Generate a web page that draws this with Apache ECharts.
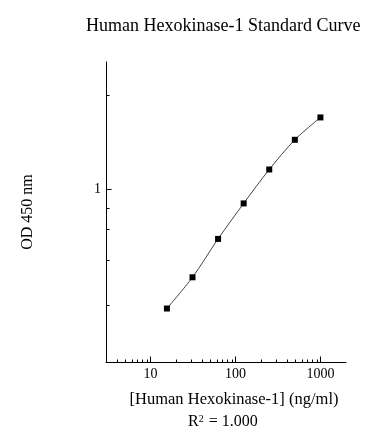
<!DOCTYPE html>
<html>
<head>
<meta charset="utf-8">
<script src="https://cdn.jsdelivr.net/npm/echarts@6/dist/echarts.min.js"></script>
<style>
html,body{margin:0;padding:0;background:#fff;}
#chart{width:388px;height:444px;}
</style>
</head>
<body>
<div id="chart"></div>
<script>
// Standard concentrations (ng/ml)
const concentrations = [15.625, 31.25, 62.5, 125, 250, 500, 1000];
// OD 450 nm readings
const odValues = [0.218, 0.325, 0.531, 0.836, 1.29, 1.886, 2.51];
// Axis ranges
const xRange = [3, 2000];
const yRange = [0.11, 5.1];
// Tick marks
const xMajorTicks = [10, 100, 1000];
const xMinorTicks = [4, 5, 6, 7, 8, 9, 20, 30, 40, 50, 60, 70, 80, 90, 200, 300, 400, 500, 600, 700, 800, 900];
const yMajorTicks = [1];
const yMinorTicks = [3.34, 0.79, 0.6, 0.405, 0.228];
const xTickLabels = ['10', '100', '1000'];
const yTickLabels = ['1'];

const FONT = '"Liberation Serif", "Times New Roman", serif';

const chart = echarts.init(document.getElementById('chart'), null, {renderer: 'canvas'});

function tickSeries(ticks, isX, len) {
  return {
    type: 'custom',
    silent: true,
    clip: false,
    z: 5,
    data: ticks.map(v => isX ? [v, yRange[0]] : [xRange[0], v]),
    renderItem: function (params, api) {
      const p = api.coord([api.value(0), api.value(1)]);
      const x = Math.round(p[0]) + 0.5;
      const y = Math.round(p[1]) + 0.5;
      const shape = isX ? {x1: x, y1: y, x2: x, y2: y - len} : {x1: x, y1: y, x2: x + len, y2: y};
      return {type: 'line', shape: shape, style: {stroke: '#000', lineWidth: 1}};
    }
  };
}

const option = {
  backgroundColor: '#fff',
  animation: false,
  title: [
    {
      text: 'Human Hexokinase-1 Standard Curve',
      left: 81, top: 12,
      textStyle: {fontFamily: FONT, fontSize: 18, fontWeight: 'normal', color: '#000'}
    },
    {
      text: '{a|R}{s|2}{a| = 1.000}',
      left: 183, top: 409,
      textStyle: {
        fontFamily: FONT, fontWeight: 'normal', color: '#000',
        rich: {
          a: {fontFamily: FONT, fontSize: 16, color: '#000', verticalAlign: 'bottom'},
          s: {fontFamily: FONT, fontSize: 10, color: '#000', verticalAlign: 'top', padding: [0, 1, 6, 0]}
        }
      }
    }
  ],
  grid: {left: 106, right: 42, top: 62, bottom: 82, containLabel: false},
  xAxis: {
    type: 'log',
    logBase: 10,
    min: xRange[0],
    max: xRange[1],
    name: '[Human Hexokinase-1] (ng/ml)',
    nameLocation: 'middle',
    nameGap: 29,
    nameTextStyle: {fontFamily: FONT, fontSize: 16.5, color: '#000', padding: [0, 0, 0, 16]},
    axisLine: {show: true, lineStyle: {color: '#000', width: 1}},
    axisTick: {show: false},
    splitLine: {show: false},
    minorTick: {show: false},
    axisLabel: {
      fontFamily: FONT, fontSize: 14, color: '#000', margin: 5,
      showMinLabel: false, showMaxLabel: false,
      formatter: function (v) {
        for (let i = 0; i < xMajorTicks.length; i++) {
          if (Math.abs(v - xMajorTicks[i]) / xMajorTicks[i] < 1e-6) return xTickLabels[i];
        }
        return '';
      }
    }
  },
  yAxis: {
    type: 'log',
    logBase: 10,
    min: yRange[0],
    max: yRange[1],
    name: 'OD 450 nm',
    nameLocation: 'middle',
    nameGap: 70,
    nameRotate: 90,
    nameTextStyle: {fontFamily: FONT, fontSize: 16, color: '#000'},
    axisLine: {show: true, lineStyle: {color: '#000', width: 1}},
    axisTick: {show: false},
    splitLine: {show: false},
    minorTick: {show: false},
    axisLabel: {
      fontFamily: FONT, fontSize: 14, color: '#000', margin: 5,
      showMinLabel: false, showMaxLabel: false,
      formatter: function (v) {
        for (let i = 0; i < yMajorTicks.length; i++) {
          if (Math.abs(v - yMajorTicks[i]) / yMajorTicks[i] < 1e-6) return yTickLabels[i];
        }
        return '';
      }
    }
  },
  series: [
    {
      type: 'line',
      data: concentrations.map((c, i) => [c, odValues[i]]),
      smooth: 0.3,
      symbol: 'rect',
      symbolSize: 6,
      itemStyle: {color: '#000'},
      lineStyle: {color: '#444', width: 1},
      z: 10
    },
    tickSeries(xMajorTicks, true, 6),
    tickSeries(xMinorTicks, true, 3),
    tickSeries(yMajorTicks, false, 5),
    tickSeries(yMinorTicks, false, 3)
  ]
};
chart.setOption(option);
</script>
</body>
</html>
